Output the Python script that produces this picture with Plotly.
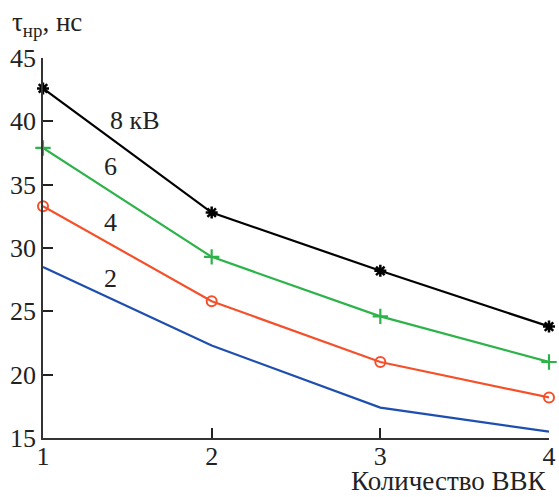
import plotly.graph_objects as go

x_vals = [1, 2, 3, 4]
kv8 = [42.6, 32.8, 28.2, 23.8]
kv6 = [37.9, 29.3, 24.6, 21.0]
kv4 = [33.3, 25.8, 21.0, 18.2]
kv2 = [28.5, 22.3, 17.4, 15.5]
series_labels = ["8 кВ", "6", "4", "2"]
label_pos = [(1.54, 40.1), (1.40, 36.4), (1.40, 32.0), (1.40, 27.6)]
y_ticks = [15, 20, 25, 30, 35, 40, 45]
x_ticks = [1, 2, 3, 4]

FONT = "'Liberation Serif', 'Times New Roman', 'DejaVu Serif', serif"
fig = go.Figure()
fig.add_trace(go.Scatter(x=x_vals, y=kv2, mode="lines",
                         line=dict(color="#1f4fae", width=2.2), cliponaxis=False))
fig.add_trace(go.Scatter(x=x_vals, y=kv4, mode="lines+markers",
                         line=dict(color="#f4502a", width=2.2),
                         marker=dict(symbol="circle-open", size=10, color="#f4502a",
                                     line=dict(width=2, color="#f4502a")), cliponaxis=False))
fig.add_trace(go.Scatter(x=x_vals, y=kv6, mode="lines+markers",
                         line=dict(color="#2db34a", width=2.2),
                         marker=dict(symbol="cross-thin", size=11, color="#2db34a",
                                     line=dict(width=2.2, color="#2db34a")), cliponaxis=False))
fig.add_trace(go.Scatter(x=x_vals, y=kv8, mode="lines+markers",
                         line=dict(color="#000000", width=2.2),
                         marker=dict(symbol="asterisk", size=10, color="#000000",
                                     line=dict(width=2.5, color="#000000")), cliponaxis=False))

for txt, (lx, ly) in zip(series_labels, label_pos):
    fig.add_annotation(x=lx, y=ly, text=txt, showarrow=False,
                       font=dict(family=FONT, size=26, color="#222"))

fig.add_annotation(xref="paper", yref="paper", x=-0.065, y=1.04, xanchor="left", yanchor="bottom",
                   text="τ<sub>нр</sub>, нс", showarrow=False,
                   font=dict(family=FONT, size=27, color="#222"))
fig.add_annotation(xref="paper", yref="paper", x=1.0, y=-0.158, xanchor="right", yanchor="bottom",
                   text="Количество ВВК", showarrow=False,
                   font=dict(family=FONT, size=27, color="#222"))

axis_common = dict(showgrid=False, zeroline=False, showline=True, linecolor="#333",
                   linewidth=1.5, ticks="inside", ticklen=10, tickwidth=2, tickcolor="#222",
                   automargin=False,
                   tickfont=dict(family=FONT, size=26, color="#222"))
fig.update_xaxes(range=[1, 4], tickvals=x_ticks, ticklabelstandoff=-6, **axis_common)
fig.update_yaxes(range=[15, 45], tickvals=y_ticks, **axis_common)

fig.update_layout(width=559, height=497, margin=dict(l=43, r=10, t=58, b=59),
                  plot_bgcolor="white", paper_bgcolor="white", showlegend=False)
fig.write_html("out.html")
